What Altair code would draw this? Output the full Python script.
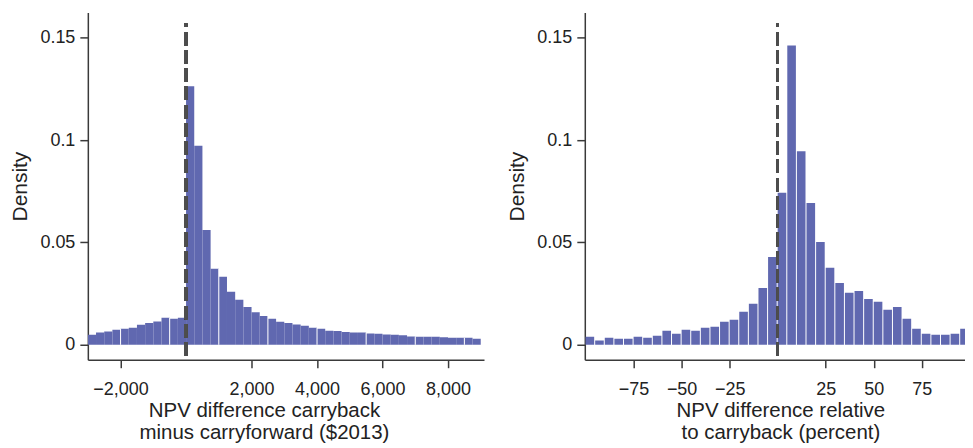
import altair as alt
import pandas as pd

# ---------------- data ----------------
LEFT_BIN_START = [-3000, -2750, -2500, -2250, -2000, -1750, -1500, -1250, -1000, -750, -500, -250,
                  0, 250, 500, 750, 1000, 1250, 1500, 1750, 2000, 2250, 2500, 2750,
                  3000, 3250, 3500, 3750, 4000, 4250, 4500, 4750, 5000, 5250, 5500, 5750,
                  6000, 6250, 6500, 6750, 7000, 7250, 7500, 7750, 8000, 8250, 8500, 8750]
LEFT_BIN_WIDTH = 250
LEFT_DENSITY = [0.0049, 0.0060, 0.0065, 0.0073, 0.0078, 0.0083, 0.0098, 0.0106, 0.0114, 0.0132, 0.0127, 0.0132,
                0.1263, 0.0972, 0.0561, 0.0371, 0.0332, 0.0259, 0.0220, 0.0185, 0.0159, 0.0141, 0.0127, 0.0112,
                0.0106, 0.0099, 0.0093, 0.0083, 0.0078, 0.0068, 0.0067, 0.0063, 0.0060, 0.0060, 0.0055, 0.0054,
                0.0050, 0.0049, 0.0046, 0.0041, 0.0039, 0.0039, 0.0039, 0.0037, 0.0034, 0.0034, 0.0034, 0.0029]

RIGHT_BIN_START = [-100, -95, -90, -85, -80, -75, -70, -65, -60, -55, -50, -45, -40, -35, -30, -25, -20, -15, -10, -5,
                   0, 5, 10, 15, 20, 25, 30, 35, 40, 45, 50, 55, 60, 65, 70, 75, 80, 85, 90, 95]
RIGHT_BIN_WIDTH = 5
RIGHT_DENSITY = [0.0039, 0.0021, 0.0034, 0.0029, 0.0029, 0.0039, 0.0034, 0.0044, 0.0068, 0.0054,
                 0.0073, 0.0068, 0.0083, 0.0088, 0.0112, 0.0122, 0.0161, 0.0200, 0.0278, 0.0429,
                 0.0743, 0.1463, 0.0946, 0.0693, 0.0502, 0.0376, 0.0302, 0.0254, 0.0263, 0.0224,
                 0.0210, 0.0171, 0.0185, 0.0127, 0.0078, 0.0054, 0.0049, 0.0049, 0.0054, 0.0078]

LEFT_TICKS = [-2000, 2000, 4000, 6000, 8000]
RIGHT_TICKS = [-75, -50, -25, 25, 50, 75]
Y_TICKS = [0, 0.05, 0.1, 0.15]

LEFT_TITLE = ["NPV difference carryback", "minus carryforward ($2013)"]
RIGHT_TITLE = ["NPV difference relative", "to carryback (percent)"]

# ---------------- style ----------------
BAR = "#6068b0"
AXIS = "#3a3a3a"
TEXT = "#222222"
FONT = "Liberation Sans"
Y_MIN, Y_MAX = -0.0073, 0.1624
DASH_TOP = 0.1569
H = 348
MINUS_LABEL = "datum.value < 0 ? '\u2212' + format(-datum.value, ',.0f') : format(datum.value, ',.0f')"


def y_axis():
    return alt.Axis(values=Y_TICKS, format="~g", title="Density", grid=False,
                    tickSize=8, labelPadding=5, titlePadding=9, titleFontSize=21)


def panel(starts, width_bin, dens, ticks, title, domain, width, title_x, gap_every=None, x2off=0):
    df = pd.DataFrame({"start": starts, "density": dens})
    df["end"] = df["start"] + width_bin
    df["zero"] = 0.0
    xscale = alt.Scale(domain=domain, nice=False, zero=False)
    xaxis = alt.Axis(values=ticks, labelExpr=MINUS_LABEL, title=title, grid=False, tickSize=8,
                     labelPadding=13, titlePadding=2, titleX=title_x, titleAlign="center",
                     titleFontSize=20.5, titleLineHeight=22, labelOverlap=False, labelFlush=False)
    bars = alt.Chart(df).mark_rect(color=BAR, clip=True, x2Offset=x2off).encode(
        x=alt.X("start:Q", scale=xscale, axis=xaxis),
        x2="end:Q",
        y=alt.Y("zero:Q", scale=alt.Scale(domain=[Y_MIN, Y_MAX], nice=False, zero=False), axis=y_axis()),
        y2="density:Q",
    )
    layers = [bars]
    if gap_every:
        gdf = df.copy()
        gdf["prev"] = gdf["density"].shift(1).fillna(0)
        gdf["gap_top"] = gdf[["density", "prev"]].max(axis=1)
        gdf = gdf[(gdf.index % gap_every) == 4]
        gaps = alt.Chart(gdf).mark_rule(color="white", strokeWidth=1).encode(
            x=alt.X("start:Q"), y=alt.Y("zero:Q", axis=y_axis()), y2="gap_top:Q")
        layers.append(gaps)
    dash = alt.Chart(df).mark_rule(color="#4d4d4d", strokeWidth=2.5, strokeDash=[13.3, 5],
                                   strokeDashOffset=10).encode(
        x=alt.datum(0), y=alt.datum(DASH_TOP), y2=alt.datum(Y_MIN))
    layers.append(dash)
    return alt.layer(*layers).properties(width=width, height=H)


left = panel(LEFT_BIN_START, LEFT_BIN_WIDTH, LEFT_DENSITY, LEFT_TICKS, LEFT_TITLE,
             [-3000, 9100], 397, 176.5, gap_every=6)
right = panel(RIGHT_BIN_START, RIGHT_BIN_WIDTH, RIGHT_DENSITY, RIGHT_TICKS, RIGHT_TITLE,
              [-100.4, 97.5], 381, 196, x2off=-1)

chart = alt.hconcat(left, right, spacing=101, bounds="flush").properties(
    padding={"left": 1, "top": 4, "right": 0, "bottom": 0}
).configure_view(stroke=None).configure_axis(
    domainColor=AXIS, tickColor=AXIS, domainWidth=1.5, tickWidth=1.5,
    labelFont=FONT, titleFont=FONT, labelFontSize=18,
    titleFontWeight="normal", labelColor=TEXT, titleColor=TEXT,
)

chart.save("out.html", embed_options={"renderer": "svg", "actions": False})
